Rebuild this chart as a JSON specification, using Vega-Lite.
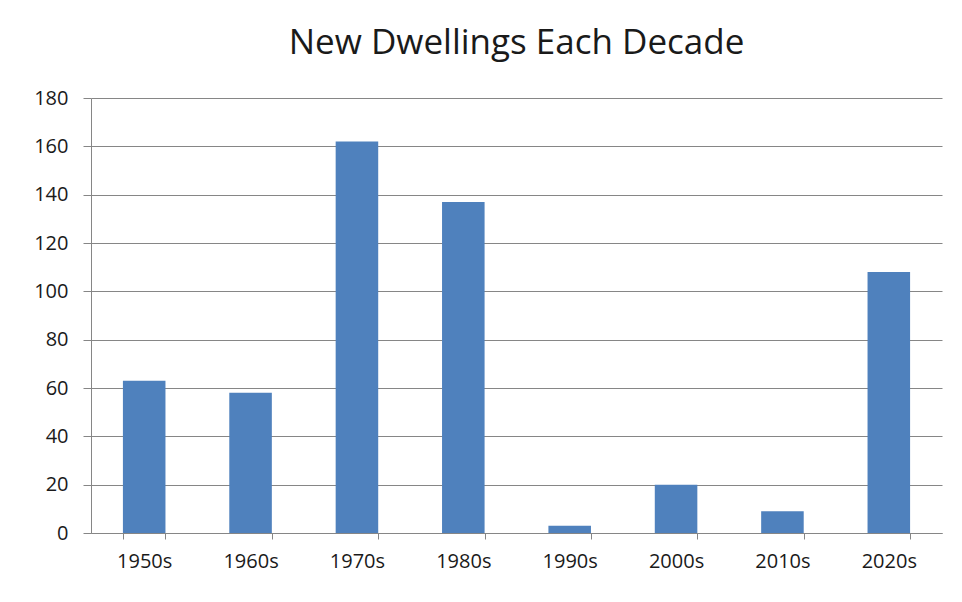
{
  "$schema": "https://vega.github.io/schema/vega-lite/v6.json",
  "width": 851,
  "height": 435,
  "autosize": {"type": "none"},
  "padding": {"left": 91, "top": 98, "right": 20, "bottom": 69},
  "background": "white",
  "title": {
    "text": "New Dwellings Each Decade",
    "font": "Open Sans",
    "fontSize": 35,
    "fontWeight": "normal",
    "color": "#1a1a1a",
    "anchor": "middle",
    "frame": "group",
    "baseline": "alphabetic",
    "offset": -1
  },
  "data": {
    "values": [
      {"decade": "1950s", "dwellings": 63},
      {"decade": "1960s", "dwellings": 58},
      {"decade": "1970s", "dwellings": 162},
      {"decade": "1980s", "dwellings": 137},
      {"decade": "1990s", "dwellings": 3},
      {"decade": "2000s", "dwellings": 20},
      {"decade": "2010s", "dwellings": 9},
      {"decade": "2020s", "dwellings": 108}
    ]
  },
  "mark": {"type": "bar", "color": "#4F81BD"},
  "encoding": {
    "x": {
      "field": "decade",
      "type": "ordinal",
      "sort": null,
      "scale": {"paddingInner": 0.6, "paddingOuter": 0.3},
      "axis": {
        "title": null,
        "labelAngle": 0,
        "tickBand": "extent",
        "tickSize": 6,
        "tickColor": "#868686",
        "domainColor": "#868686",
        "labelFont": "Open Sans",
        "labelFontSize": 20,
        "labelColor": "#1a1a1a",
        "labelPadding": 12,
        "grid": false
      }
    },
    "y": {
      "field": "dwellings",
      "type": "quantitative",
      "scale": {"domain": [0, 180], "nice": false},
      "axis": {
        "title": null,
        "values": [0, 20, 40, 60, 80, 100, 120, 140, 160, 180],
        "grid": true,
        "gridColor": "#868686",
        "gridOpacity": 1,
        "tickSize": 8,
        "tickColor": "#868686",
        "domainColor": "#868686",
        "labelFont": "Open Sans",
        "labelFontSize": 20,
        "labelColor": "#1a1a1a",
        "labelPadding": 15
      }
    }
  },
  "config": {
    "view": {"stroke": null}
  }
}
